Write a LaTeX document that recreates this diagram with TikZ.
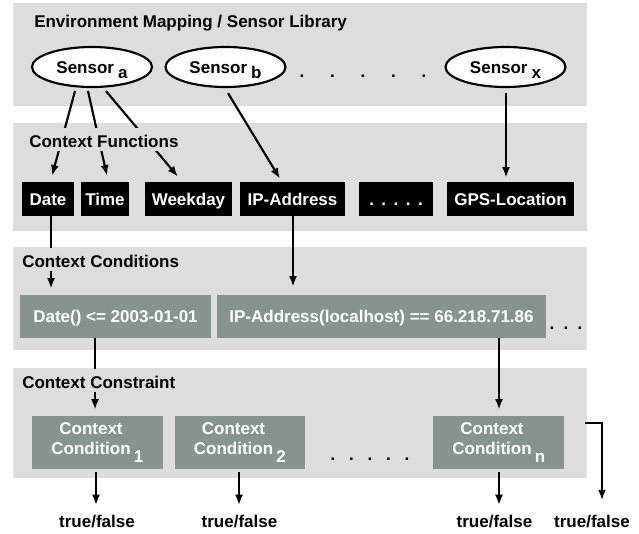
\documentclass[tikz,border=0pt]{standalone}
\usepackage{fontspec}
\setmainfont{Liberation Sans}
\usetikzlibrary{arrows.meta,calc,shapes.geometric}
\definecolor{panel}{RGB}{221,221,221}
\definecolor{cond}{RGB}{134,147,145}
\newcommand{\dotrow}[2]{.\hspace{#1}.\hspace{#1}.\ifnum#2>3\hspace{#1}.\hspace{#1}.\fi}
\begin{document}
\begin{tikzpicture}[x=0.75pt,y=-0.75pt,
  every node/.style={font=\bfseries\fontsize{12.75}{15}\selectfont, inner sep=0pt},
  conn/.style={line width=1.6pt},
  arr/.style={conn,-{Latex[length=8pt,width=6pt]}},
  panelbox/.style={fill=panel},
  title/.style={anchor=base west, fill=panel, text height=11.75pt, text depth=0.5pt, inner xsep=0pt, inner ysep=2.5pt},
  sensor/.style={ellipse, draw, line width=1.6pt, fill=white, minimum width=90pt, minimum height=30pt, text height=9.2pt, text depth=0pt},
  fbox/.style={fill=black, text=white, minimum height=25.5pt, text height=9.2pt, text depth=0pt},
  cbox/.style={fill=cond, text=white, minimum height=32.25pt, text height=9.2pt, text depth=0pt},
  ccbox/.style={fill=cond, minimum width=98.25pt, minimum height=39.75pt},
  cctext/.style={text=white, align=center},
  tf/.style={anchor=base},
]
\useasboundingbox (0,0) rectangle (639,533);
% panels
\fill[panel] (12.7,3) rectangle (586.5,106);
\fill[panel] (12.7,123) rectangle (587,231);
\fill[panel] (12.7,247) rectangle (587,350);
\fill[panel] (12.7,368) rectangle (587,478);

% sensors
\node[sensor] (sa) at (92,67) {Sensor\hspace{3pt}\smash{\raisebox{-4.2pt}{a}}};
\node[sensor] (sb) at (225.5,67) {Sensor\hspace{3pt}\smash{\raisebox{-4.2pt}{b}}};
\node[sensor] (sx) at (505.5,67) {Sensor\hspace{3pt}\smash{\raisebox{-4.2pt}{x}}};
\node[anchor=base] (sdots) at (363,77.5) {\dotrow{19.35pt}{5}};

% context functions
\node[fbox, minimum width=39pt] (date) at (48,199) {Date};
\node[fbox, minimum width=36pt] (time) at (105,199) {Time};
\node[fbox, minimum width=65.25pt] (wd) at (188.5,199) {Weekday};
\node[fbox, minimum width=78.75pt] (ip) at (292.5,199) {IP-Address};
\node[fbox, minimum width=55.5pt] (fdots) at (396,199) {\dotrow{5.6pt}{5}};
\node[fbox, minimum width=95.25pt] (gps) at (510.5,199) {GPS-Location};

% context conditions
\node[cbox, minimum width=143.25pt] (c1) at (115.5,316.5) {Date() <= 2003-01-01};
\node[cbox, minimum width=246.75pt] (c2) at (381.5,316.5) {IP-Address(localhost) == 66.218.71.86};
\node[anchor=base] (cdots) at (566,329.5) {\dotrow{7pt}{3}};

% context constraint
\node[ccbox] (cc1) at (97.5,442.5) {};
\node[ccbox, minimum width=97.5pt] (cc2) at (240,442.5) {};
\node[ccbox] (ccn) at (498.5,442.5) {};
\node[cctext] (cc1t) at ($(cc1)+(-6.5,-4)$) {Context\\Condition\rlap{\smash{\hspace{2.5pt}\raisebox{-6pt}{1}}}};
\node[cctext] (cc2t) at ($(cc2)+(-6.5,-4)$) {Context\\Condition\rlap{\smash{\hspace{2.5pt}\raisebox{-6pt}{2}}}};
\node[cctext] (ccnt) at ($(ccn)+(-6.5,-4)$) {Context\\Condition\rlap{\smash{\hspace{2.5pt}\raisebox{-6pt}{n}}}};
\node[anchor=base] (ccdots) at (370,460.5) {\dotrow{10.35pt}{5}};

% results
\node[tf] (tf1) at (97,527) {true/false};
\node[tf] (tf2) at (239.5,527) {true/false};
\node[tf] (tfn) at (494.5,527) {true/false};
\node[tf] (tfall) at (592,527) {true/false};

% connectors
\draw[arr] ($(sa.south)+(-17,3)$) -- ($(date.north)+(4,-6)$);
\draw[arr] ($(sa.south)+(-4,3)$) -- ($(time.north)+(2,-6)$);
\draw[arr] ($(sa.south)+(14,3)$) -- ($(wd.north)+(-10.5,-5)$);
\draw[arr] ($(sb.south)+(2.5,5)$) -- ($(ip.north)+(-12.5,-3)$);
\draw[arr] ($(sx.south)+(0.5,5)$) -- ($(gps.north)+(-4.5,-4)$);

\draw[arr] ($(date.south)+(3,0)$) -- ($(c1.north)+(-64.5,-6)$);
\draw[arr] ($(ip.south)+(0.5,0)$) -- ($(c2.north)+(-88.5,-8)$);

\draw[arr] ($(c1.south)+(-20.5,0)$) -- ($(cc1.north)+(-2.5,-6)$);
\draw[arr] ($(c2.south)+(117.5,0)$) -- ($(ccn.north)+(0.5,-6)$);

\draw[arr] ($(cc1.south)+(-1.5,3)$) -- ($(cc1.south)+(-1.5,36)$);
\draw[arr] ($(cc2.south)+(-1,3)$) -- ($(cc2.south)+(-1,36)$);
\draw[arr] ($(ccn.south)+(0.5,3)$) -- ($(ccn.south)+(0.5,36)$);
\coordinate (brk) at ($(ccn.east)+(21,-19.5)$);
\draw[arr] (brk) -| ($(tfall.north)+(10,-14)$);

% titles (mask crossing connectors)
\node[title] (t1) at (34,27) {Environment Mapping / Sensor Library};
\node[title] (t2) at (29,147) {Context Functions};
\node[title] (t3) at (22,267) {Context Conditions};
\node[title] (t4) at (22,388) {Context Constraint};
\end{tikzpicture}
\end{document}
